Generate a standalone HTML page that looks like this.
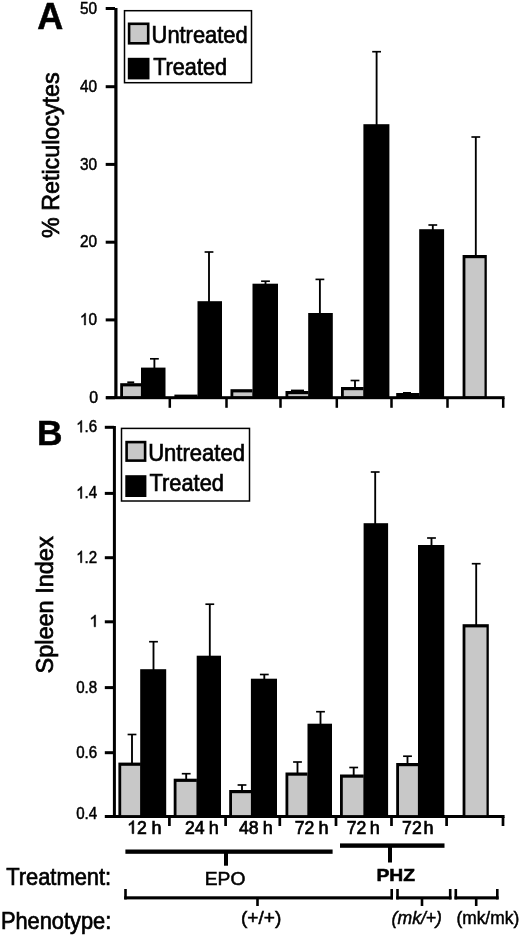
<!DOCTYPE html>
<html><head><meta charset="utf-8"><title>Figure</title>
<style>
html,body{margin:0;padding:0;background:#fff;}
body{width:520px;height:936px;overflow:hidden;}
svg{display:block;will-change:transform;filter:blur(0.45px);}
svg text{font-family:"Liberation Sans",sans-serif;fill:#000;stroke:#000;}
</style></head><body>
<svg width="520" height="936" viewBox="0 0 520 936" shape-rendering="auto">
<rect x="0" y="0" width="520" height="936" fill="#fff"/>
<rect x="114.30" y="8.00" width="3.20" height="391.00" fill="#000" />
<rect x="106.00" y="396.20" width="398.60" height="3.00" fill="#000" />
<rect x="105.70" y="7.00" width="9.30" height="3.00" fill="#000" />
<g transform="translate(79.90,13.60) scale(0.9320,1)">
<text x="0.00" y="0" font-size="16.5" stroke-width="0.5">5</text>
<text x="9.17" y="0" font-size="16.5" stroke-width="0.5">0</text>
</g>
<rect x="105.70" y="85.20" width="9.30" height="3.00" fill="#000" />
<g transform="translate(79.90,91.80) scale(0.9320,1)">
<text x="0.00" y="0" font-size="16.5" stroke-width="0.5">4</text>
<text x="9.17" y="0" font-size="16.5" stroke-width="0.5">0</text>
</g>
<rect x="105.70" y="162.90" width="9.30" height="3.00" fill="#000" />
<g transform="translate(79.90,169.50) scale(0.9320,1)">
<text x="0.00" y="0" font-size="16.5" stroke-width="0.5">3</text>
<text x="9.17" y="0" font-size="16.5" stroke-width="0.5">0</text>
</g>
<rect x="105.70" y="240.70" width="9.30" height="3.00" fill="#000" />
<g transform="translate(79.90,247.30) scale(0.9320,1)">
<text x="0.00" y="0" font-size="16.5" stroke-width="0.5">2</text>
<text x="9.17" y="0" font-size="16.5" stroke-width="0.5">0</text>
</g>
<rect x="105.70" y="318.40" width="9.30" height="3.00" fill="#000" />
<g transform="translate(79.90,325.00) scale(0.9320,1)">
<path d="M763 0H583V1147Q518 1085 412.5 1023T223 930V1104Q374 1175 487 1276T647 1472H763V0Z" transform="translate(0.00,0) scale(0.00806,-0.00806)" fill="#000" stroke="#000" stroke-width="62.1"/>
<text x="9.17" y="0" font-size="16.5" stroke-width="0.5">0</text>
</g>
<rect x="105.70" y="396.20" width="9.30" height="3.00" fill="#000" />
<g transform="translate(89.20,402.80) scale(0.9592,1)">
<text x="0.00" y="0" font-size="16.5" stroke-width="0.5">0</text>
</g>
<rect x="168.55" y="398.00" width="2.50" height="9.80" fill="#000" />
<rect x="225.25" y="398.00" width="2.50" height="9.80" fill="#000" />
<rect x="279.25" y="398.00" width="2.50" height="9.80" fill="#000" />
<rect x="335.55" y="398.00" width="2.50" height="9.80" fill="#000" />
<rect x="390.25" y="398.00" width="2.50" height="9.80" fill="#000" />
<rect x="446.25" y="398.00" width="2.50" height="9.80" fill="#000" />
<rect x="501.95" y="398.00" width="2.50" height="9.80" fill="#000" />
<rect x="120.20" y="383.20" width="21.00" height="14.80" fill="#000" />
<rect x="123.00" y="386.40" width="17.90" height="9.70" fill="#c8c8c8" />
<rect x="174.40" y="394.60" width="23.20" height="3.40" fill="#000" />
<rect x="230.50" y="389.20" width="22.10" height="8.80" fill="#000" />
<rect x="233.30" y="392.40" width="19.00" height="3.70" fill="#c8c8c8" />
<rect x="285.50" y="391.00" width="23.10" height="7.00" fill="#000" />
<rect x="288.30" y="394.20" width="20.00" height="1.90" fill="#c8c8c8" />
<rect x="341.00" y="387.00" width="22.70" height="11.00" fill="#000" />
<rect x="343.80" y="390.20" width="19.60" height="5.90" fill="#c8c8c8" />
<rect x="396.20" y="393.00" width="23.30" height="5.00" fill="#000" />
<rect x="462.60" y="255.00" width="24.20" height="143.00" fill="#000" />
<rect x="465.40" y="258.20" width="19.10" height="137.90" fill="#c8c8c8" />
<rect x="141.00" y="367.60" width="24.50" height="30.40" fill="#000" />
<rect x="197.50" y="301.20" width="24.50" height="96.80" fill="#000" />
<rect x="252.50" y="283.70" width="25.50" height="114.30" fill="#000" />
<rect x="308.20" y="313.00" width="24.60" height="85.00" fill="#000" />
<rect x="363.40" y="124.20" width="26.00" height="273.80" fill="#000" />
<rect x="419.20" y="229.20" width="24.90" height="168.80" fill="#000" />
<rect x="153.47" y="358.80" width="1.85" height="9.20" fill="#000" />
<rect x="150.00" y="357.98" width="8.80" height="1.65" fill="#000" />
<rect x="208.07" y="252.00" width="1.85" height="50.00" fill="#000" />
<rect x="204.60" y="251.18" width="8.80" height="1.65" fill="#000" />
<rect x="264.57" y="281.20" width="1.85" height="2.80" fill="#000" />
<rect x="261.10" y="280.38" width="8.80" height="1.65" fill="#000" />
<rect x="318.97" y="279.40" width="1.85" height="34.60" fill="#000" />
<rect x="315.50" y="278.57" width="8.80" height="1.65" fill="#000" />
<rect x="375.68" y="51.70" width="1.85" height="73.30" fill="#000" />
<rect x="372.20" y="50.88" width="8.80" height="1.65" fill="#000" />
<rect x="431.88" y="225.00" width="1.85" height="5.00" fill="#000" />
<rect x="428.40" y="224.18" width="8.80" height="1.65" fill="#000" />
<rect x="354.07" y="380.50" width="1.85" height="7.50" fill="#000" />
<rect x="350.60" y="379.68" width="8.80" height="1.65" fill="#000" />
<rect x="474.88" y="137.00" width="1.85" height="119.00" fill="#000" />
<rect x="471.40" y="136.18" width="8.80" height="1.65" fill="#000" />
<rect x="127.30" y="381.40" width="6.90" height="2.00" fill="#000" />
<rect x="291.00" y="389.60" width="13.00" height="1.90" fill="#000" />
<rect x="403.00" y="392.00" width="8.00" height="1.50" fill="#000" />
<rect x="124.5" y="10.7" width="127" height="72" fill="#fff" stroke="#000" stroke-width="1.5"/>
<rect x="127.80" y="22.50" width="21.70" height="22.10" fill="#000" />
<rect x="130.40" y="25.10" width="16.50" height="16.90" fill="#c8c8c8" />
<rect x="127.80" y="57.80" width="21.70" height="21.60" fill="#000" />
<text x="151.60" y="43.00" font-size="24" text-anchor="start" font-weight="normal" font-style="normal" stroke-width="0.7" textLength="96.00" lengthAdjust="spacingAndGlyphs" >Untreated</text>
<text x="153.20" y="74.80" font-size="24" text-anchor="start" font-weight="normal" font-style="normal" stroke-width="0.7" textLength="73.80" lengthAdjust="spacingAndGlyphs" >Treated</text>
<text x="37.20" y="29.30" font-size="36" text-anchor="start" font-weight="bold" font-style="normal" stroke-width="0.5" >A</text>
<text x="37.00" y="445.40" font-size="35.3" text-anchor="start" font-weight="bold" font-style="normal" stroke-width="0.5" >B</text>
<text x="58.60" y="238.00" font-size="24.5" text-anchor="start" font-weight="normal" font-style="normal" stroke-width="0.7" textLength="165.60" lengthAdjust="spacingAndGlyphs" transform="rotate(-90 58.60 238.00)" >% Reticulocytes</text>
<rect x="112.90" y="426.00" width="3.00" height="392.00" fill="#000" />
<rect x="105.00" y="815.00" width="399.60" height="3.00" fill="#000" />
<rect x="104.80" y="425.80" width="9.20" height="3.00" fill="#000" />
<g transform="translate(76.20,432.30) scale(0.9156,1)">
<path d="M763 0H583V1147Q518 1085 412.5 1023T223 930V1104Q374 1175 487 1276T647 1472H763V0Z" transform="translate(0.00,0) scale(0.00806,-0.00806)" fill="#000" stroke="#000" stroke-width="62.1"/>
<text x="9.17" y="0" font-size="16.5" stroke-width="0.5">.</text>
<text x="13.76" y="0" font-size="16.5" stroke-width="0.5">6</text>
</g>
<rect x="104.80" y="491.90" width="9.20" height="3.00" fill="#000" />
<g transform="translate(76.20,498.40) scale(0.9156,1)">
<path d="M763 0H583V1147Q518 1085 412.5 1023T223 930V1104Q374 1175 487 1276T647 1472H763V0Z" transform="translate(0.00,0) scale(0.00806,-0.00806)" fill="#000" stroke="#000" stroke-width="62.1"/>
<text x="9.17" y="0" font-size="16.5" stroke-width="0.5">.</text>
<text x="13.76" y="0" font-size="16.5" stroke-width="0.5">4</text>
</g>
<rect x="104.80" y="556.20" width="9.20" height="3.00" fill="#000" />
<g transform="translate(76.20,562.70) scale(0.9156,1)">
<path d="M763 0H583V1147Q518 1085 412.5 1023T223 930V1104Q374 1175 487 1276T647 1472H763V0Z" transform="translate(0.00,0) scale(0.00806,-0.00806)" fill="#000" stroke="#000" stroke-width="62.1"/>
<text x="9.17" y="0" font-size="16.5" stroke-width="0.5">.</text>
<text x="13.76" y="0" font-size="16.5" stroke-width="0.5">2</text>
</g>
<rect x="104.80" y="620.30" width="9.20" height="3.00" fill="#000" />
<g transform="translate(89.43,626.80) scale(1.0000,1)">
<path d="M763 0H583V1147Q518 1085 412.5 1023T223 930V1104Q374 1175 487 1276T647 1472H763V0Z" transform="translate(0.00,0) scale(0.00806,-0.00806)" fill="#000" stroke="#000" stroke-width="62.1"/>
</g>
<rect x="104.80" y="686.10" width="9.20" height="3.00" fill="#000" />
<g transform="translate(76.20,692.60) scale(0.9156,1)">
<text x="0.00" y="0" font-size="16.5" stroke-width="0.5">0</text>
<text x="9.17" y="0" font-size="16.5" stroke-width="0.5">.</text>
<text x="13.76" y="0" font-size="16.5" stroke-width="0.5">8</text>
</g>
<rect x="104.80" y="751.20" width="9.20" height="3.00" fill="#000" />
<g transform="translate(76.20,757.70) scale(0.9156,1)">
<text x="0.00" y="0" font-size="16.5" stroke-width="0.5">0</text>
<text x="9.17" y="0" font-size="16.5" stroke-width="0.5">.</text>
<text x="13.76" y="0" font-size="16.5" stroke-width="0.5">6</text>
</g>
<rect x="104.80" y="815.00" width="9.20" height="3.00" fill="#000" />
<g transform="translate(76.20,819.30) scale(0.9156,1)">
<text x="0.00" y="0" font-size="16.5" stroke-width="0.5">0</text>
<text x="9.17" y="0" font-size="16.5" stroke-width="0.5">.</text>
<text x="13.76" y="0" font-size="16.5" stroke-width="0.5">4</text>
</g>
<rect x="168.05" y="817.00" width="2.70" height="9.00" fill="#000" />
<rect x="224.25" y="817.00" width="2.70" height="9.00" fill="#000" />
<rect x="278.45" y="817.00" width="2.70" height="9.00" fill="#000" />
<rect x="334.65" y="817.00" width="2.70" height="9.00" fill="#000" />
<rect x="390.15" y="817.00" width="2.70" height="9.00" fill="#000" />
<rect x="445.25" y="817.00" width="2.70" height="9.00" fill="#000" />
<rect x="501.65" y="817.00" width="2.70" height="9.00" fill="#000" />
<rect x="118.40" y="762.60" width="22.40" height="54.40" fill="#000" />
<rect x="121.20" y="765.80" width="19.30" height="49.30" fill="#c8c8c8" />
<rect x="173.70" y="778.70" width="23.20" height="38.30" fill="#000" />
<rect x="176.50" y="781.90" width="20.10" height="33.20" fill="#c8c8c8" />
<rect x="229.20" y="790.00" width="22.10" height="27.00" fill="#000" />
<rect x="232.00" y="793.20" width="19.00" height="21.90" fill="#c8c8c8" />
<rect x="285.50" y="772.50" width="22.10" height="44.50" fill="#000" />
<rect x="288.30" y="775.70" width="19.00" height="39.40" fill="#c8c8c8" />
<rect x="340.00" y="774.50" width="23.80" height="42.50" fill="#000" />
<rect x="342.80" y="777.70" width="20.70" height="37.40" fill="#c8c8c8" />
<rect x="396.20" y="763.00" width="22.00" height="54.00" fill="#000" />
<rect x="399.00" y="766.20" width="18.90" height="48.90" fill="#c8c8c8" />
<rect x="462.60" y="624.20" width="26.20" height="192.80" fill="#000" />
<rect x="465.40" y="627.40" width="21.10" height="187.70" fill="#c8c8c8" />
<rect x="140.20" y="669.20" width="26.00" height="147.80" fill="#000" />
<rect x="196.70" y="655.70" width="24.30" height="161.30" fill="#000" />
<rect x="250.90" y="678.70" width="26.10" height="138.30" fill="#000" />
<rect x="307.50" y="723.70" width="24.50" height="93.30" fill="#000" />
<rect x="363.60" y="523.20" width="24.50" height="293.80" fill="#000" />
<rect x="418.00" y="545.00" width="26.30" height="272.00" fill="#000" />
<rect x="131.07" y="734.50" width="1.85" height="28.50" fill="#000" />
<rect x="127.60" y="733.67" width="8.80" height="1.65" fill="#000" />
<rect x="185.27" y="773.70" width="1.85" height="5.30" fill="#000" />
<rect x="181.80" y="772.88" width="8.80" height="1.65" fill="#000" />
<rect x="241.07" y="785.00" width="1.85" height="6.00" fill="#000" />
<rect x="237.60" y="784.17" width="8.80" height="1.65" fill="#000" />
<rect x="296.57" y="762.00" width="1.85" height="11.00" fill="#000" />
<rect x="293.10" y="761.17" width="8.80" height="1.65" fill="#000" />
<rect x="352.77" y="767.50" width="1.85" height="7.50" fill="#000" />
<rect x="349.30" y="766.67" width="8.80" height="1.65" fill="#000" />
<rect x="406.57" y="756.20" width="1.85" height="7.80" fill="#000" />
<rect x="403.10" y="755.38" width="8.80" height="1.65" fill="#000" />
<rect x="475.27" y="563.70" width="1.85" height="61.30" fill="#000" />
<rect x="471.80" y="562.88" width="8.80" height="1.65" fill="#000" />
<rect x="152.57" y="641.70" width="1.85" height="28.30" fill="#000" />
<rect x="149.10" y="640.88" width="8.80" height="1.65" fill="#000" />
<rect x="208.88" y="604.20" width="1.85" height="51.80" fill="#000" />
<rect x="205.40" y="603.38" width="8.80" height="1.65" fill="#000" />
<rect x="263.38" y="674.50" width="1.85" height="4.50" fill="#000" />
<rect x="259.90" y="673.67" width="8.80" height="1.65" fill="#000" />
<rect x="319.57" y="711.70" width="1.85" height="12.30" fill="#000" />
<rect x="316.10" y="710.88" width="8.80" height="1.65" fill="#000" />
<rect x="374.27" y="472.00" width="1.85" height="52.00" fill="#000" />
<rect x="370.80" y="471.18" width="8.80" height="1.65" fill="#000" />
<rect x="430.57" y="538.00" width="1.85" height="8.00" fill="#000" />
<rect x="427.10" y="537.17" width="8.80" height="1.65" fill="#000" />
<rect x="121.5" y="428.4" width="128" height="72.6" fill="#fff" stroke="#000" stroke-width="1.5"/>
<rect x="125.30" y="440.80" width="21.10" height="21.10" fill="#000" />
<rect x="127.90" y="443.40" width="15.90" height="15.90" fill="#c8c8c8" />
<rect x="125.30" y="475.20" width="21.10" height="21.80" fill="#000" />
<text x="148.20" y="461.20" font-size="24" text-anchor="start" font-weight="normal" font-style="normal" stroke-width="0.7" textLength="96.80" lengthAdjust="spacingAndGlyphs" >Untreated</text>
<text x="149.60" y="491.40" font-size="24" text-anchor="start" font-weight="normal" font-style="normal" stroke-width="0.7" textLength="74.30" lengthAdjust="spacingAndGlyphs" >Treated</text>
<text x="53.00" y="673.50" font-size="23.5" text-anchor="start" font-weight="normal" font-style="normal" stroke-width="0.7" transform="rotate(-90 53.00 673.50)" >Spleen Index</text>
<g transform="translate(127.14,833.60) scale(0.9800,1)">
<path d="M763 0H583V1147Q518 1085 412.5 1023T223 930V1104Q374 1175 487 1276T647 1472H763V0Z" transform="translate(0.00,0) scale(0.00879,-0.00879)" fill="#000" stroke="#000" stroke-width="79.6"/>
<text x="10.01" y="0" font-size="18" stroke-width="0.7">2</text>
</g>
<g transform="translate(151.45,833.60) scale(1.0000,1)">
<text x="0.00" y="0" font-size="18" stroke-width="0.7">h</text>
</g>
<g transform="translate(184.96,833.60) scale(0.9800,1)">
<text x="0.00" y="0" font-size="18" stroke-width="0.7">2</text>
<text x="10.01" y="0" font-size="18" stroke-width="0.7">4</text>
</g>
<g transform="translate(208.85,833.60) scale(1.0000,1)">
<text x="0.00" y="0" font-size="18" stroke-width="0.7">h</text>
</g>
<g transform="translate(238.88,833.60) scale(0.9800,1)">
<text x="0.00" y="0" font-size="18" stroke-width="0.7">4</text>
<text x="10.01" y="0" font-size="18" stroke-width="0.7">8</text>
</g>
<g transform="translate(262.85,833.60) scale(1.0000,1)">
<text x="0.00" y="0" font-size="18" stroke-width="0.7">h</text>
</g>
<g transform="translate(294.69,833.60) scale(0.9800,1)">
<text x="0.00" y="0" font-size="18" stroke-width="0.7">7</text>
<text x="10.01" y="0" font-size="18" stroke-width="0.7">2</text>
</g>
<g transform="translate(318.45,833.60) scale(1.0000,1)">
<text x="0.00" y="0" font-size="18" stroke-width="0.7">h</text>
</g>
<g transform="translate(346.69,833.60) scale(0.9800,1)">
<text x="0.00" y="0" font-size="18" stroke-width="0.7">7</text>
<text x="10.01" y="0" font-size="18" stroke-width="0.7">2</text>
</g>
<g transform="translate(369.65,833.60) scale(1.0000,1)">
<text x="0.00" y="0" font-size="18" stroke-width="0.7">h</text>
</g>
<g transform="translate(402.09,833.60) scale(0.9800,1)">
<text x="0.00" y="0" font-size="18" stroke-width="0.7">7</text>
<text x="10.01" y="0" font-size="18" stroke-width="0.7">2</text>
</g>
<g transform="translate(423.45,833.60) scale(1.0000,1)">
<text x="0.00" y="0" font-size="18" stroke-width="0.7">h</text>
</g>
<rect x="125.40" y="849.50" width="207.20" height="4.30" fill="#000" />
<rect x="224.00" y="853.00" width="4.00" height="12.70" fill="#000" />
<text x="204.80" y="885.00" font-size="17.5" text-anchor="start" font-weight="normal" font-style="normal" stroke-width="0.5" textLength="40.60" lengthAdjust="spacingAndGlyphs" >EPO</text>
<rect x="340.00" y="843.40" width="104.50" height="4.40" fill="#000" />
<rect x="388.00" y="847.00" width="4.00" height="15.50" fill="#000" />
<text x="376.40" y="881.00" font-size="17" text-anchor="start" font-weight="bold" font-style="normal" stroke-width="0.5" textLength="38.60" lengthAdjust="spacingAndGlyphs" >PHZ</text>
<text x="6.20" y="885.20" font-size="24" text-anchor="start" font-weight="normal" font-style="normal" stroke-width="0.7" textLength="105.00" lengthAdjust="spacingAndGlyphs" >Treatment:</text>
<text x="0.90" y="929.00" font-size="24" text-anchor="start" font-weight="normal" font-style="normal" stroke-width="0.7" textLength="110.40" lengthAdjust="spacingAndGlyphs" >Phenotype:</text>
<rect x="124.20" y="896.30" width="268.80" height="3.10" fill="#000" />
<rect x="124.20" y="889.00" width="2.60" height="10.40" fill="#000" />
<rect x="390.40" y="889.00" width="2.60" height="10.40" fill="#000" />
<rect x="256.20" y="898.90" width="2.60" height="7.10" fill="#000" />
<rect x="396.20" y="896.30" width="55.30" height="3.10" fill="#000" />
<rect x="396.20" y="889.00" width="2.60" height="10.40" fill="#000" />
<rect x="448.90" y="889.00" width="2.60" height="10.40" fill="#000" />
<rect x="420.70" y="898.90" width="2.60" height="7.10" fill="#000" />
<rect x="454.50" y="896.30" width="44.10" height="3.10" fill="#000" />
<rect x="454.50" y="889.00" width="2.60" height="10.40" fill="#000" />
<rect x="496.00" y="889.00" width="2.60" height="10.40" fill="#000" />
<rect x="474.90" y="898.90" width="2.60" height="7.10" fill="#000" />
<text x="241.00" y="924.00" font-size="18" text-anchor="start" font-weight="normal" font-style="normal" stroke-width="0.5" textLength="40.40" lengthAdjust="spacingAndGlyphs" >(+/+)</text>
<text x="391.60" y="924.20" font-size="18.5" text-anchor="start" font-weight="normal" font-style="italic" stroke-width="0.5" textLength="50.40" lengthAdjust="spacingAndGlyphs" >(mk/+)</text>
<text x="456.40" y="924.20" font-size="18.5" text-anchor="start" font-weight="normal" font-style="normal" stroke-width="0.5" textLength="62.80" lengthAdjust="spacingAndGlyphs" >(mk/mk)</text>
</svg>
</body></html>
